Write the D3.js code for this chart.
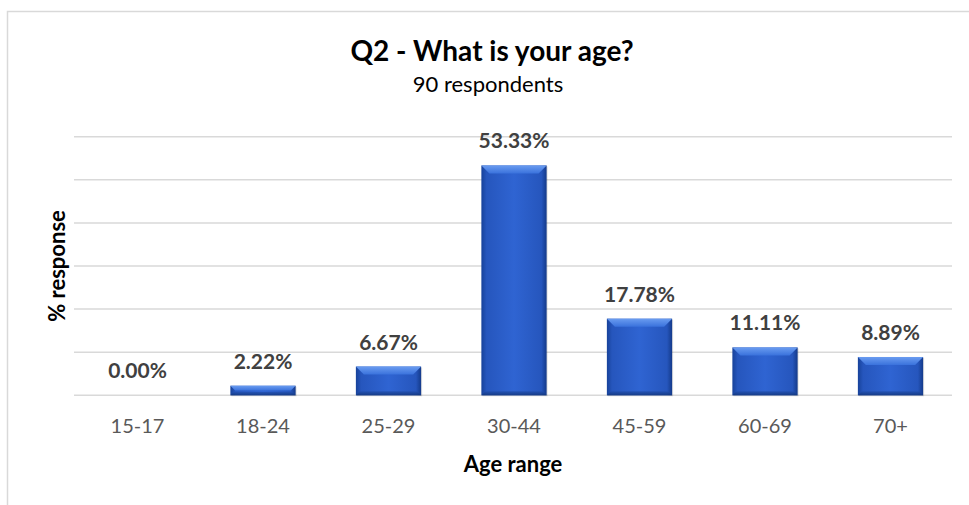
<!DOCTYPE html>
<html>
<head>
<meta charset="utf-8">
<script src="https://cdn.jsdelivr.net/npm/d3@7"></script>
<style>
  html, body { margin: 0; padding: 0; background: #fff; }
  svg { display: block; }
  text { font-family: Lato, "Open Sans", sans-serif; }
</style>
</head>
<body>
<svg id="chart" width="969" height="505"></svg>
<script>
const categories = ["15-17", "18-24", "25-29", "30-44", "45-59", "60-69", "70+"];
const values = [0.00, 2.22, 6.67, 53.33, 17.78, 11.11, 8.89];
const yTicks = [0, 10, 20, 30, 40, 50, 60];
const titleText = "Q2 - What is your age?";
const subtitleText = "90 respondents";
const xTitle = "Age range";
const yTitle = "% response";

const svg = d3.select("#chart");
const W = 969, H = 505;
const plot = { left: 74.75, right: 953.25, top: 136.7, bottom: 395.3 };

// chart border
svg.append("rect")
  .attr("x", 7.5).attr("y", 11.5)
  .attr("width", W + 20).attr("height", H + 20)
  .attr("fill", "#fff").attr("stroke", "#d9d9d9").attr("stroke-width", 1.5);

const x = d3.scaleBand().domain(categories)
  .range([plot.left, plot.right]).paddingInner(0.48).paddingOuter(0.24);
const y = d3.scaleLinear().domain([0, 60]).range([plot.bottom, plot.top]);

const defs = svg.append("defs");
const g1 = defs.append("linearGradient").attr("id", "barGrad")
  .attr("x1", "0").attr("x2", "1").attr("y1", "0").attr("y2", "0");
[[0, "#17429a"], [0.08, "#2656bd"], [0.5, "#2f64d2"], [0.92, "#2656bd"], [1, "#143a8a"]]
  .forEach(([o, c]) => g1.append("stop").attr("offset", o).attr("stop-color", c));
const g2 = defs.append("linearGradient").attr("id", "topGrad")
  .attr("x1", "0").attr("x2", "0").attr("y1", "0").attr("y2", "1");
[[0, "#6a9cf0"], [1, "#3a72dc"]]
  .forEach(([o, c]) => g2.append("stop").attr("offset", o).attr("stop-color", c));
const g3 = defs.append("linearGradient").attr("id", "botGrad")
  .attr("x1", "0").attr("x2", "0").attr("y1", "0").attr("y2", "1");
[[0, "#214fae"], [1, "#123477"]]
  .forEach(([o, c]) => g3.append("stop").attr("offset", o).attr("stop-color", c));

// gridlines
svg.append("g").selectAll("line").data(yTicks).join("line")
  .attr("x1", plot.left - 0.75).attr("x2", plot.right - 1.25)
  .attr("y1", d => y(d)).attr("y2", d => y(d))
  .attr("stroke", "#d9d9d9").attr("stroke-width", 1.5);

// bars
const bars = svg.append("g").selectAll("g").data(categories).join("g");
bars.each(function(c, i) {
  const v = values[i];
  if (v <= 0) return;
  const gx = x(c), w = x.bandwidth(), top = y(v), bot = y(0), h = bot - top;
  const gg = d3.select(this);
  gg.append("rect").attr("x", gx + 1).attr("y", top + 1).attr("width", w).attr("height", h)
    .attr("fill", "#000").attr("opacity", 0.12);
  gg.append("rect").attr("x", gx).attr("y", top).attr("width", w).attr("height", h)
    .attr("fill", "url(#barGrad)");
  const b = Math.min(8, h / 2);
  gg.append("path")
    .attr("d", `M${gx},${top} L${gx + w},${top} L${gx + w - b},${top + b} L${gx + b},${top + b} Z`)
    .attr("fill", "url(#topGrad)");
  const bb = Math.min(4, h / 3);
  gg.append("path")
    .attr("d", `M${gx},${bot} L${gx + w},${bot} L${gx + w - bb},${bot - bb} L${gx + bb},${bot - bb} Z`)
    .attr("fill", "url(#botGrad)").attr("opacity", 0.8);
});

// data labels
svg.append("g").selectAll("text").data(categories).join("text")
  .attr("x", d => x(d) + x.bandwidth() / 2)
  .attr("y", (d, i) => y(values[i]) - 17)
  .attr("text-anchor", "middle")
  .attr("font-size", 21).attr("font-weight", 700).attr("fill", "#404040")
  .text((d, i) => values[i].toFixed(2) + "%");

// x axis labels
const xAxis = d3.axisBottom(x).tickSize(0).tickPadding(0);
const xg = svg.append("g").attr("transform", `translate(0,${plot.bottom})`).call(xAxis);
xg.select(".domain").remove();
xg.selectAll("text")
  .attr("dy", null).attr("y", 38)
  .attr("font-family", "Lato, sans-serif")
  .attr("font-size", 20).attr("fill", "#595959");

// axis titles
svg.append("text").attr("x", 513).attr("y", 472)
  .attr("text-anchor", "middle").attr("font-size", 22).attr("font-weight", 700).attr("fill", "#000")
  .text(xTitle);
svg.append("text")
  .attr("transform", `translate(65,266) rotate(-90)`)
  .attr("text-anchor", "middle").attr("font-size", 22).attr("font-weight", 700).attr("fill", "#000")
  .text(yTitle);

// titles
svg.append("text").attr("x", 492).attr("y", 61)
  .attr("text-anchor", "middle").attr("font-size", 28).attr("font-weight", 700).attr("fill", "#000")
  .text(titleText);
svg.append("text").attr("x", 488).attr("y", 92)
  .attr("text-anchor", "middle").attr("font-size", 22).attr("fill", "#000")
  .text(subtitleText);
</script>
</body>
</html>
